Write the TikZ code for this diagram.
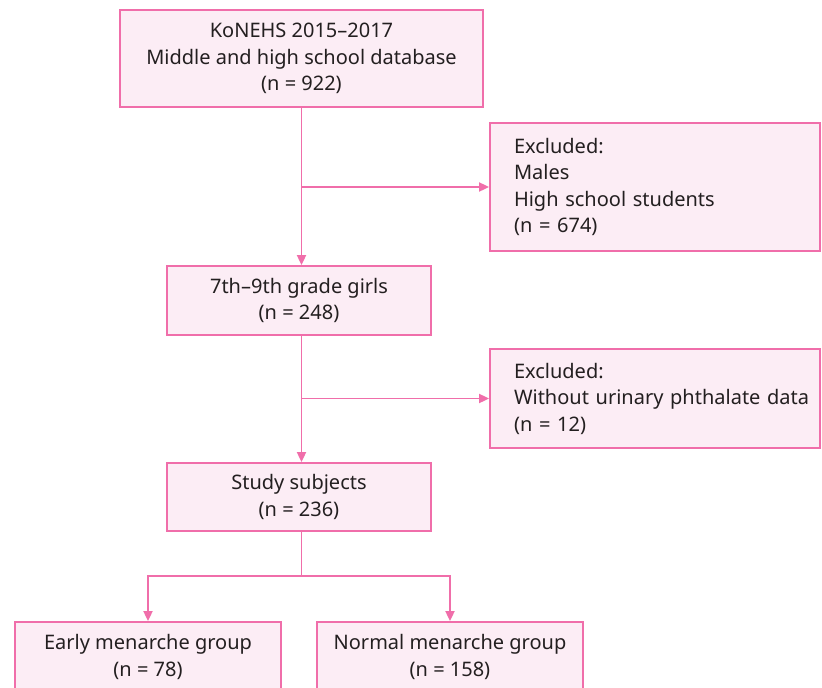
\documentclass[tikz,border=0pt]{standalone}
\usepackage{fontspec}
\setmainfont{Noto Sans}
\usetikzlibrary{arrows.meta}
\definecolor{pinkline}{HTML}{F06EAA}
\definecolor{pinkfill}{HTML}{FCEDF5}
\definecolor{txt}{HTML}{231F20}
\begin{document}
\begin{tikzpicture}[x=1pt,y=-1pt,
  box/.style={draw=pinkline,fill=pinkfill,line width=1.8pt,inner sep=0pt,text=txt,
    font=\fontsize{20}{26.5}\selectfont,align=center},
  conn/.style={draw=pinkline,line width=1.8pt},
  arr/.style={conn,-{Triangle[length=10pt,width=9pt]}}]
\useasboundingbox (0,0) rectangle (822,688);
\clip (0,0) rectangle (822,688);
\node[box,minimum width=363pt,minimum height=97pt] (top) at (301.5,58.5)
  {KoNEHS 2015–2017\\Middle and high school database\\(n = 922)};
\node[box,minimum width=330pt,minimum height=128pt,align=left,text width=282pt] (exa) at (655,187)
  {Excluded:\\Males\\High school students\\(n = 674)};
\node[box,minimum width=264pt,minimum height=69pt] (girls) at (299,300.5)
  {7th–9th grade girls\\(n = 248)};
\node[box,minimum width=330pt,minimum height=99pt,align=left,text width=282pt] (exb) at (655,398.5)
  {Excluded:\\\mbox{Without urinary phthalate data}\\(n = 12)};
\node[box,minimum width=264pt,minimum height=68pt] (study) at (299,497)
  {Study subjects\\(n = 236)};
\node[box,minimum width=266pt,minimum height=70pt] (early) at (148,657)
  {Early menarche group\\(n = 78)};
\node[box,minimum width=266pt,minimum height=70pt] (normal) at (450,657)
  {Normal menarche group\\(n = 158)};
\coordinate (split) at (301.5,576);
\draw[arr] (top.south) -- (top.south |- girls.north);
\draw[arr] (top.south |- exa.west) -- (exa.west);
\draw[arr] (top.south |- girls.south) -- (top.south |- study.north);
\draw[arr] (top.south |- exb.west) -- (exb.west);
\draw[conn] (top.south |- study.south) -- (split);
\draw[arr] (split) -| (early.north);
\draw[arr] (split) -| (normal.north);
\end{tikzpicture}
\end{document}
